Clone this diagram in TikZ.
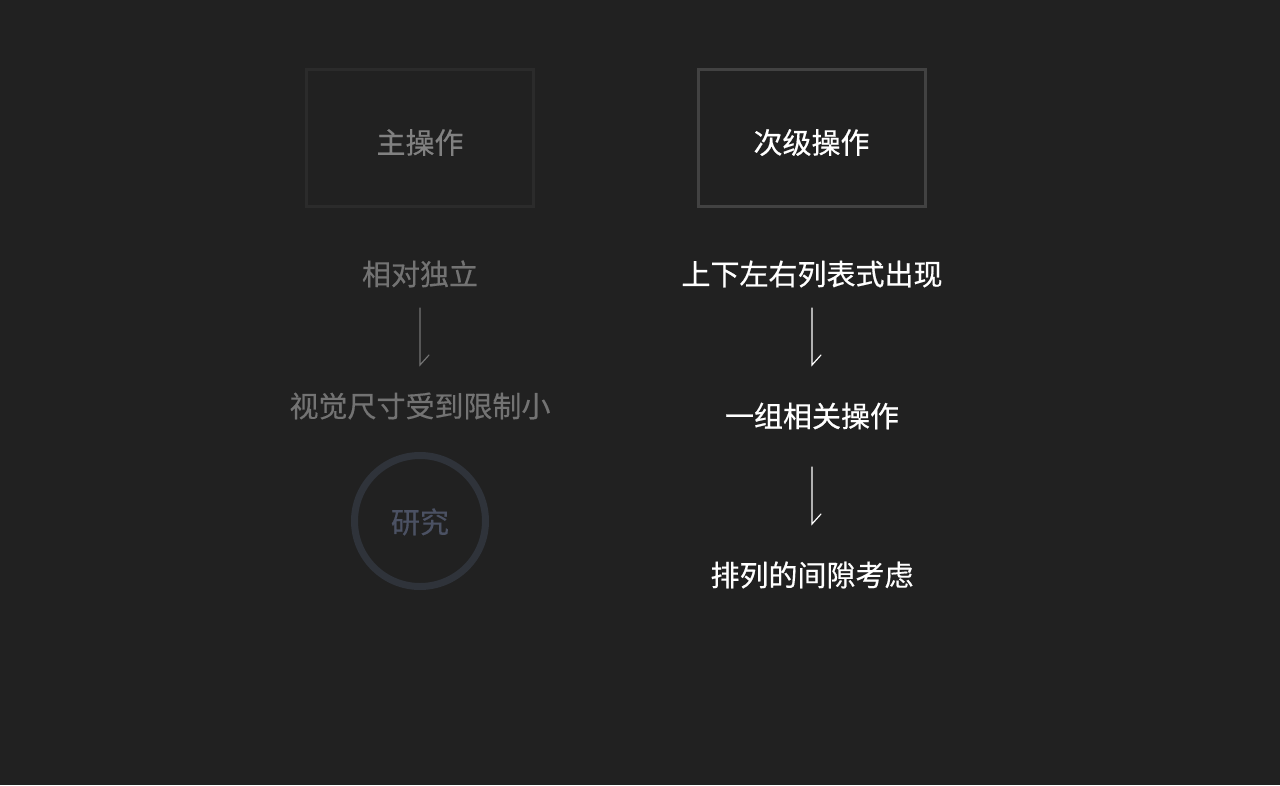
\documentclass[tikz,border=0pt]{standalone}
\usepackage{fontspec}
\usepackage{tikz}
\usetikzlibrary{calc}
\newfontfamily\cjk[FakeBold=0.5]{Noto Sans CJK SC}
\definecolor{bg}{HTML}{212121}
\definecolor{dim}{HTML}{737373}
\definecolor{dimbox}{HTML}{2B2B2B}
\definecolor{litbox}{HTML}{424242}
\definecolor{ring}{HTML}{2F333A}
\definecolor{ringtext}{HTML}{4B5163}
\tikzset{
  txt/.style={font=\cjk\fontsize{29}{34}\selectfont, inner sep=0pt, text height=28pt, text depth=4pt},
  dimtxt/.style={txt, text=dim},
  littxt/.style={txt, text=white},
  opbox/.style={draw, line width=3pt, minimum width=227pt, minimum height=137pt, text height=35pt},
  arrowline/.style={line width=1.2pt, line cap=round, line join=miter},
}

\begin{document}
\begin{tikzpicture}[x=1pt, y=-1pt]
  \fill[bg] (0,0) rectangle (1280,785);
  \useasboundingbox (0,0) rectangle (1280,785);
  % left column
  \node[dimtxt, opbox, draw=dimbox, text=dim!90] (main) at (420,138) {主操作};
  \node[dimtxt] (l1) at (420,273) {相对独立};
  \node[dimtxt] (l2) at (420,405) {视觉尺寸受到限制小};
  \node[circle, draw=ring, line width=7pt, minimum size=131pt, txt, text=ringtext] (study) at (420,521) {研究};
  % right column
  \node[littxt, opbox, draw=litbox] (sub) at (811.5,138) {次级操作};
  \node[littxt] (r1) at (812,273) {上下左右列表式出现};
  \node[littxt] (r2) at (812,415) {一组相关操作};
  \node[littxt] (r3) at (812,574) {排列的间隙考虑};
  % arrows
  \foreach \n/\x/\y/\c in {la/420/308/dim, ra/812/308/white, rb/812/467/white}{
    \coordinate (\n top) at (\x,\y);
    \coordinate (\n tip) at (\x,\y+57);
    \draw[arrowline, draw=\c] (\n top) -- (\n tip) -- ++(9,-10);
  }
\end{tikzpicture}
\end{document}
